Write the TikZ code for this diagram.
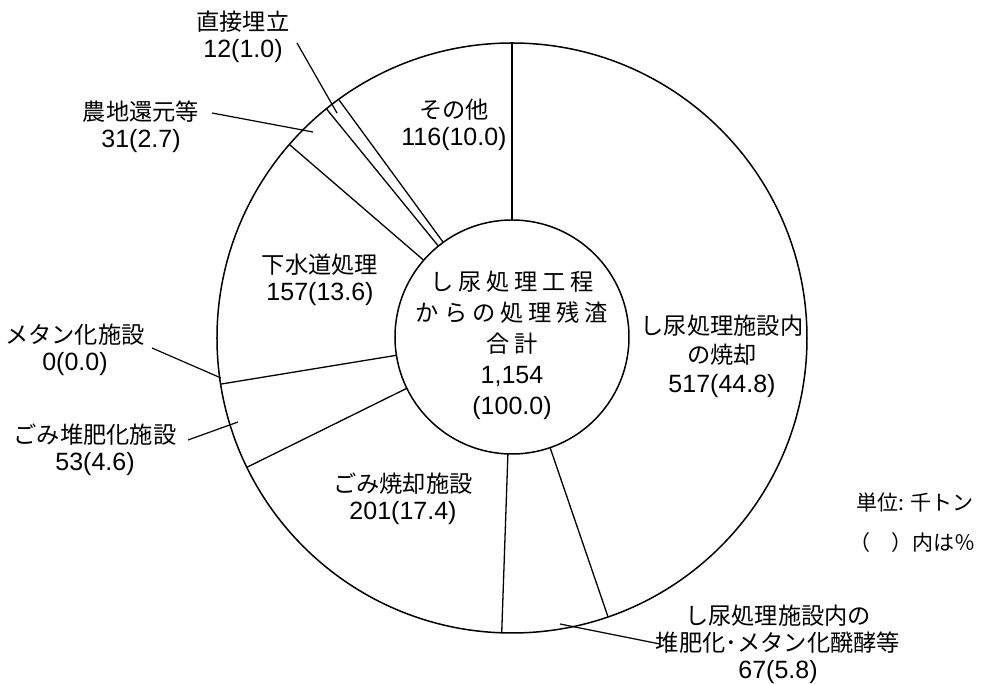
\documentclass[tikz,border=0pt]{standalone}
\usepackage{fontspec}
\setmainfont{Liberation Sans}
\newfontfamily\jp{Noto Sans CJK JP}[Scale=0.93]
\newfontfamily\jpw{Noto Sans CJK JP}[Scale=0.93,LetterSpace=21]
\newfontfamily\jpu{Noto Sans CJK JP}
\newcommand{\J}[1]{{\jp #1}}
\newcommand{\JW}[1]{{\jpw #1}}
\tikzset{
  ring/.style={circle, draw=black, line width=1.5pt, inner sep=0pt, outer sep=0pt},
  sector/.style={draw=black, line width=1.3pt},
  leader/.style={draw=black, line width=1.2pt},
  lbl/.style={inner sep=0pt, align=center, font=\fontsize{25}{27}\selectfont},
  lblw/.style={inner sep=0pt, align=center, font=\fontsize{25}{29}\selectfont},
  ctr/.style={inner sep=0pt, align=center, font=\fontsize{25}{31}\selectfont},
  unit/.style={inner sep=0pt, align=left, anchor=west, font=\fontsize{21}{40}\selectfont}
}
\begin{document}
\begin{tikzpicture}[x=1pt,y=1pt]
\useasboundingbox (-512,-346) rectangle (471,338);
\node[ring, minimum size=590pt] (outer) at (0,0) {};
\node[ring, draw=none, minimum size=234pt] (innerc) at (0,1) {};
\foreach \a in {90,-71.28,-92.18,-154.89,-171.42,139.60,129.93,126.19}
  \draw[sector] (innerc.\a) -- (outer.\a);
\node[ring, fill=white, minimum size=234pt] (inner) at (0,1) {};
\node[ctr] (total) at (0,-7) {\JW{し尿処理工程}\\\JW{からの処理残渣}\\\JW{合計}\\1,154\\(100.0)};

% labels inside
\node[lbl] (sonota) at (-58,213.5) {\J{その他}\\116(10.0)};
\node[lbl] (gesui) at (-192,58.5) {\J{下水道処理}\\157(13.6)};
\node[lbl] (gomisho) at (-109,-160.5) {\J{ごみ焼却施設}\\201(17.4)};
\node[lblw] (shinyo) at (210,-18.5) {\J{し尿処理施設内}\\\J{の焼却}\\517(44.8)};

% labels outside
\node[lbl] (chokusetsu) at (-269,301) {\J{直接埋立}\\12(1.0)};
\node[lbl] (nochi) at (-371,211.5) {\J{農地還元等}\\31(2.7)};
\node[lbl] (metan) at (-437,-12) {\J{メタン化施設}\\0(0.0)};
\node[lbl] (gomitai) at (-417,-112) {\J{ごみ堆肥化施設}\\53(4.6)};
\node[lbl] (taihi) at (266,-306) {\J{し尿処理施設内の}\\\J{堆肥化･メタン化醗酵等}\\67(5.8)};

% leader end points
\coordinate (pChoku) at (-175,225);
\coordinate (pNochi) at (-199,206);
\coordinate (pMetan) at (-291,-40);
\coordinate (pGomitai) at (-274,-84);
\coordinate (pTaihi) at (48,-286);

\coordinate (sChoku) at (-215,295);
\coordinate (sNochi) at (-300,225);
\coordinate (sMetan) at (-360,-10);
\coordinate (sGomitai) at (-324,-102);
\coordinate (sTaihi) at (148,-306);

\draw[leader] (sChoku) -- (pChoku);
\draw[leader] (sNochi) -- (pNochi);
\draw[leader] (sMetan) -- (pMetan);
\draw[leader] (sGomitai) -- (pGomitai);
\draw[leader] (sTaihi) -- (pTaihi);

\node[unit] (unit) at (344,-185) {{\jpu 単位: 千トン}\\\hspace*{-7pt}{\jpu （　）内は％}};
\end{tikzpicture}
\end{document}
